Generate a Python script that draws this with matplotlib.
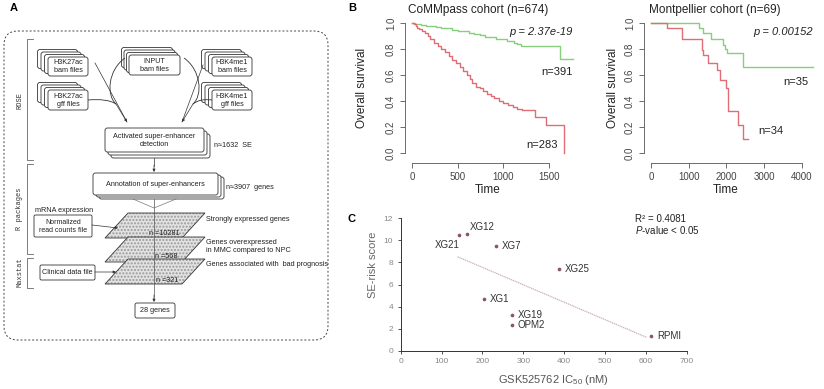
import numpy as np
import matplotlib.pyplot as plt
from matplotlib.patches import FancyBboxPatch, Polygon, PathPatch
from matplotlib.path import Path

plt.rcParams['font.family'] = ['Liberation Sans', 'DejaVu Sans']
plt.rcParams['mathtext.fontset'] = 'custom'
plt.rcParams['mathtext.rm'] = 'Liberation Sans'
plt.rcParams['mathtext.it'] = 'Liberation Sans:italic'

W, H = 824, 389

# --- B: Kaplan-Meier, CoMMpass cohort ---
cmm_low_t = [0, 30, 60, 100, 150, 200, 260, 320, 380, 440, 500, 560, 620, 680, 740,
             800, 860, 920, 980, 1040, 1080, 1120, 1150, 1190, 1620, 1760]
cmm_low_s = [1.0, 0.995, 0.99, 0.985, 0.98, 0.975, 0.97, 0.965, 0.958, 0.95, 0.942,
             0.935, 0.925, 0.915, 0.905, 0.895, 0.89, 0.88, 0.875, 0.865, 0.86, 0.85,
             0.84, 0.825, 0.72, 0.72]
cmm_high_t = [0, 20, 40, 60, 80, 110, 140, 170, 200, 240, 280, 320, 360, 400, 440, 480,
              520, 560, 600, 630, 660, 700, 740, 780, 820, 860, 900, 950, 1000, 1050,
              1100, 1150, 1200, 1350, 1470, 1665, 1665]
cmm_high_s = [1.0, 0.99, 0.975, 0.965, 0.955, 0.94, 0.92, 0.9, 0.875, 0.85, 0.825, 0.8,
              0.775, 0.745, 0.715, 0.69, 0.66, 0.63, 0.6, 0.57, 0.54, 0.51, 0.5, 0.48,
              0.455, 0.435, 0.42, 0.4, 0.385, 0.37, 0.355, 0.34, 0.33, 0.28, 0.215, 0.0, 0.0]

# --- B: Kaplan-Meier, Montpellier cohort ---
mtp_low_t = [0, 1270, 1380, 1600, 1900, 1960, 2010, 2440, 4300]
mtp_low_s = [1.0, 0.965, 0.925, 0.875, 0.83, 0.80, 0.77, 0.665, 0.665]
mtp_high_t = [0, 415, 812, 1340, 1390, 1520, 1740, 1830, 2000, 2030, 2310, 2450, 2580]
mtp_high_s = [1.0, 0.96, 0.88, 0.79, 0.755, 0.695, 0.635, 0.56, 0.50, 0.32, 0.215, 0.11, 0.11]

# --- C: SE-risk score vs IC50 ---
cell_lines = ['XG21', 'XG12', 'XG7', 'XG25', 'XG1', 'XG19', 'OPM2', 'RPMI']
ic50 = [143, 162, 233, 387, 204, 272, 272, 613]
se_risk = [10.5, 10.6, 9.5, 7.45, 4.65, 3.25, 2.3, 1.35]

GREEN = '#86cf7c'
RED = '#e06c75'

fig = plt.figure(figsize=(W / 100, H / 100), dpi=100)

# overlay in pixel coordinates (y downward) for the flowchart, free text and panel letters
ax0 = fig.add_axes([0, 0, 1, 1])
ax0.set_xlim(0, W)
ax0.set_ylim(H, 0)
ax0.axis('off')
ax0.set_zorder(10)


def px_axes(x0, y0, x1, y1):
    return fig.add_axes([x0 / W, 1 - y1 / H, (x1 - x0) / W, (y1 - y0) / H])


def T(x, y, s, size=5.2, ha='center', va='center', **kw):
    ax0.text(x, y, s, fontsize=size, ha=ha, va=va, color='#222', **kw)


def box(x0, y0, x1, y1, r=2.5):
    ax0.add_patch(FancyBboxPatch((x0, y0), x1 - x0, y1 - y0,
                                 boxstyle=f'round,pad=0,rounding_size={r}',
                                 fc='white', ec='#333', lw=0.6))


def stack(x0, y0, x1, y1, dx, dy, n):
    for k in range(n, 0, -1):
        box(x0 + k * dx, y0 + k * dy, x1 + k * dx, y1 + k * dy)
    box(x0, y0, x1, y1)


def arrow(x0, y0, x1, y1):
    ax0.annotate('', xy=(x1, y1), xytext=(x0, y0),
                 arrowprops=dict(arrowstyle='-|>', lw=0.5, color='#333',
                                 mutation_scale=4, shrinkA=0, shrinkB=0))


def curve(pts):
    codes = [Path.MOVETO, Path.CURVE4, Path.CURVE4, Path.CURVE4]
    ax0.add_patch(PathPatch(Path(pts, codes), fc='none', ec='#333', lw=0.6))


# ---------------- panel A ----------------
ax0.add_patch(FancyBboxPatch((4, 31), 324, 309, boxstyle='round,pad=0,rounding_size=14',
                             fc='none', ec='#444', lw=0.7, ls=(0, (2, 2))))

for ya, yb in [(39, 160), (164, 254), (258, 288)]:
    ax0.plot([33, 27, 27, 33], [ya, ya, yb, yb], color='#666', lw=0.6)
for y, s in [(100, 'ROSE'), (209, 'R packages'), (272, 'Maxstat')]:
    ax0.text(20, y, s, rotation=90, fontsize=5, ha='center', va='center',
             family='Liberation Mono', color='#333')

stack(48, 57, 88, 76, -3.5, -2.5, 3)
T(68, 66.5, 'H3K27ac\nbam files')
stack(129, 55, 180, 75, -2.5, -2.5, 3)
T(154.5, 65, 'INPUT\nbam files')
stack(212, 57, 252, 76, -3.5, -2.5, 3)
T(232, 66.5, 'H3K4me1\nbam files')
stack(48, 90, 88, 110, -3.5, -2.5, 3)
T(68, 100, 'H3K27ac\ngff files')
stack(212, 90, 252, 110, -3.5, -2.5, 3)
T(232, 100, 'H3K4me1\ngff files')

# links into the detection step
curve([(125, 58), (108, 70), (106, 95), (116, 104)])
curve([(88, 100), (100, 99), (110, 100), (116, 104)])
ax0.plot([95, 127], [63, 122], color='#333', lw=0.5)
arrow(116, 104, 127, 122)
curve([(184, 58), (201, 70), (203, 95), (193, 104)])
curve([(212, 100), (204, 99), (198, 100), (193, 104)])
ax0.plot([203, 182], [65, 122], color='#333', lw=0.5)
arrow(193, 104, 182, 122)

stack(105, 128, 204, 152, 3, 3, 2)
T(154.5, 140, 'Activated super-enhancer\ndetection')
T(214, 145, 'n≈1632  SE', ha='left')
ax0.plot([154, 154], [158, 166], color='#333', lw=0.5)
arrow(154, 165, 154, 172)

stack(93, 173, 218, 195, 3, 2, 2)
T(155, 184, 'Annotation of super-enhancers')
T(226, 187, 'n≈3907  genes', ha='left')

ax0.plot([133, 154, 176], [199, 208, 199], color='#777', lw=0.5)

para = [(128, 0), (205, 0), (182, 25), (105, 25)]
for top in [213, 237, 259]:
    pts = [(x, top + y) for x, y in para]
    ax0.add_patch(Polygon(pts, closed=True, fc='#e2e2e2', ec='#9a9a9a', lw=0, hatch='.....'))
    ax0.add_patch(Polygon(pts, closed=True, fc='none', ec='#333', lw=0.6))
ax0.plot([154, 154], [199, 297], color='#555', lw=0.5, zorder=5)
arrow(154, 295, 154, 302)

T(180, 233, 'n =10281', ha='right')
T(178, 257, 'n =568', ha='right')
T(178, 280, 'n =321', ha='right')
T(206, 219, 'Strongly expressed genes', ha='left')
T(206, 246, 'Genes overexpressed\nin MMC compared to NPC', ha='left')
T(206, 265, 'Genes associated with  bad prognosis', ha='left')

T(35, 210, 'mRNA expression', ha='left')
box(34, 215, 92, 237, r=1.5)
T(63, 226, 'Normalized\nread counts file', size=5)
arrow(92, 225, 118, 228)
box(40, 265, 95, 280, r=1.5)
T(67.5, 272.5, 'Clinical data file')
arrow(95, 272, 116, 272)

box(135, 303, 175, 318, r=2)
T(155, 310.5, '28 genes')

# panel letters
for x, y, s in [(14, 8, 'A'), (352, 8, 'B'), (352, 219, 'C')]:
    ax0.text(x, y, s, fontsize=8, fontweight='bold', ha='center', va='center')


# ---------------- panel B ----------------
def km_panel(box_px, xlim, xticks, curves, title, title_x, ylab_x):
    x0, y0, x1, y1 = box_px
    ax = px_axes(x0, y0, x1, y1)
    ax.patch.set_alpha(0)
    for t, s, c in curves:
        ax.step(t, s, where='post', color=c, lw=1.0)
    ax.set_xlim(*xlim)
    ax.set_ylim(-0.077, 1.077)
    ax.set_xticks(xticks)
    ax.set_yticks(np.arange(0, 1.01, 0.2))
    ax.set_yticklabels([f'{v:.1f}' for v in np.arange(0, 1.01, 0.2)],
                       rotation=90, va='center')
    for sp in ['top', 'right']:
        ax.spines[sp].set_visible(False)
    ax.spines['left'].set_bounds(0, 1)
    ax.spines['bottom'].set_bounds(xticks[0], xticks[-1])
    for sp in ['left', 'bottom']:
        ax.spines[sp].set_color('#555')
        ax.spines[sp].set_linewidth(0.6)
    ax.tick_params(length=3.5, width=0.6, color='#555', labelsize=7,
                   labelcolor='#444', pad=3)
    ax.set_xlabel('Time', fontsize=8.5, color='#222')
    ax.xaxis.set_label_coords(0.48, -(190 - y1) / (y1 - y0))
    ax.xaxis.label.set_va('center')
    ax.set_ylabel('Overall survival', fontsize=8.5, color='#222')
    ax.yaxis.set_label_coords((ylab_x - x0) / (x1 - x0), 0.5)
    ax.yaxis.label.set_va('center')
    ax0.text(title_x, 10, title, fontsize=8.5, ha='left', va='center', color='#222')
    return ax


km_panel((405, 13, 578, 163), (-76.6, 1816), [0, 500, 1000, 1500],
         [(cmm_low_t, cmm_low_s, GREEN), (cmm_high_t, cmm_high_s, RED)],
         'CoMMpass cohort (n=674)', 408, 362)
T(573, 32, 'p = 2.37e-19', size=8, ha='right', style='italic')
T(573, 72, 'n=391', size=8, ha='right')
T(558, 145, 'n=283', size=8, ha='right')

km_panel((644, 13, 815, 163), (-185, 4344), [0, 1000, 2000, 3000, 4000],
         [(mtp_low_t, mtp_low_s, GREEN), (mtp_high_t, mtp_high_s, RED)],
         'Montpellier cohort (n=69)', 649, 613)
T(813, 32, 'p = 0.00152', size=8, ha='right', style='italic')
T(808, 82, 'n=35', size=8, ha='right')
T(758, 131, 'n=34', size=8, ha='left')

# ---------------- panel C ----------------
x0, y0, x1, y1 = 400.7, 218.3, 686.7, 350.7
axc = px_axes(x0, y0, x1, y1)
axc.patch.set_alpha(0)
xs = np.array(ic50, dtype=float)
ys = np.array(se_risk, dtype=float)
k, b = np.polyfit(xs, ys, 1)
xf = np.array([xs.min() - 4, xs.max() - 10])
axc.plot(xf, k * xf + b, color='#c8aeb4', lw=0.9, ls=(0, (1, 0.6)))
axc.scatter(xs, ys, s=7, color='#8a5566', zorder=3, linewidths=0)

offsets = {'XG21': (1, -10, 'right'), 'XG12': (3, 7, 'left')}
for name, x, y in zip(cell_lines, xs, ys):
    dx, dy, ha = offsets.get(name, (6, 0, 'left'))
    axc.annotate(name, (x, y), xytext=(dx, dy), textcoords='offset pixels',
                 ha=ha, va='center', fontsize=7, color='#333')

axc.set_xlim(0, 700)
axc.set_ylim(0, 12)
axc.set_xticks(range(0, 701, 100))
axc.set_yticks(range(0, 13, 2))
for sp in ['top', 'right']:
    axc.spines[sp].set_visible(False)
for sp in ['left', 'bottom']:
    axc.spines[sp].set_color('#333')
    axc.spines[sp].set_linewidth(0.7)
axc.tick_params(length=2.5, width=0.6, color='#333', labelsize=6,
                labelcolor='#888', pad=3)
axc.set_xlabel('GSK525762 IC$_{\\mathregular{50}}$ (nM)', fontsize=8, color='#555')
axc.xaxis.set_label_coords((553 - x0) / (x1 - x0), -(380 - y1) / (y1 - y0))
axc.xaxis.label.set_va('center')
axc.set_ylabel('SE-risk score', fontsize=8, color='#666')
axc.yaxis.set_label_coords((373 - x0) / (x1 - x0), (y1 - 265) / (y1 - y0))
axc.yaxis.label.set_va('center')
T(635, 219, 'R² = 0.4081', size=7, ha='left', va='center')
T(635, 229.5, '$\\mathit{P}$-value < 0.05', size=7, ha='left', va='center')

fig.savefig('out.png', dpi=100)
